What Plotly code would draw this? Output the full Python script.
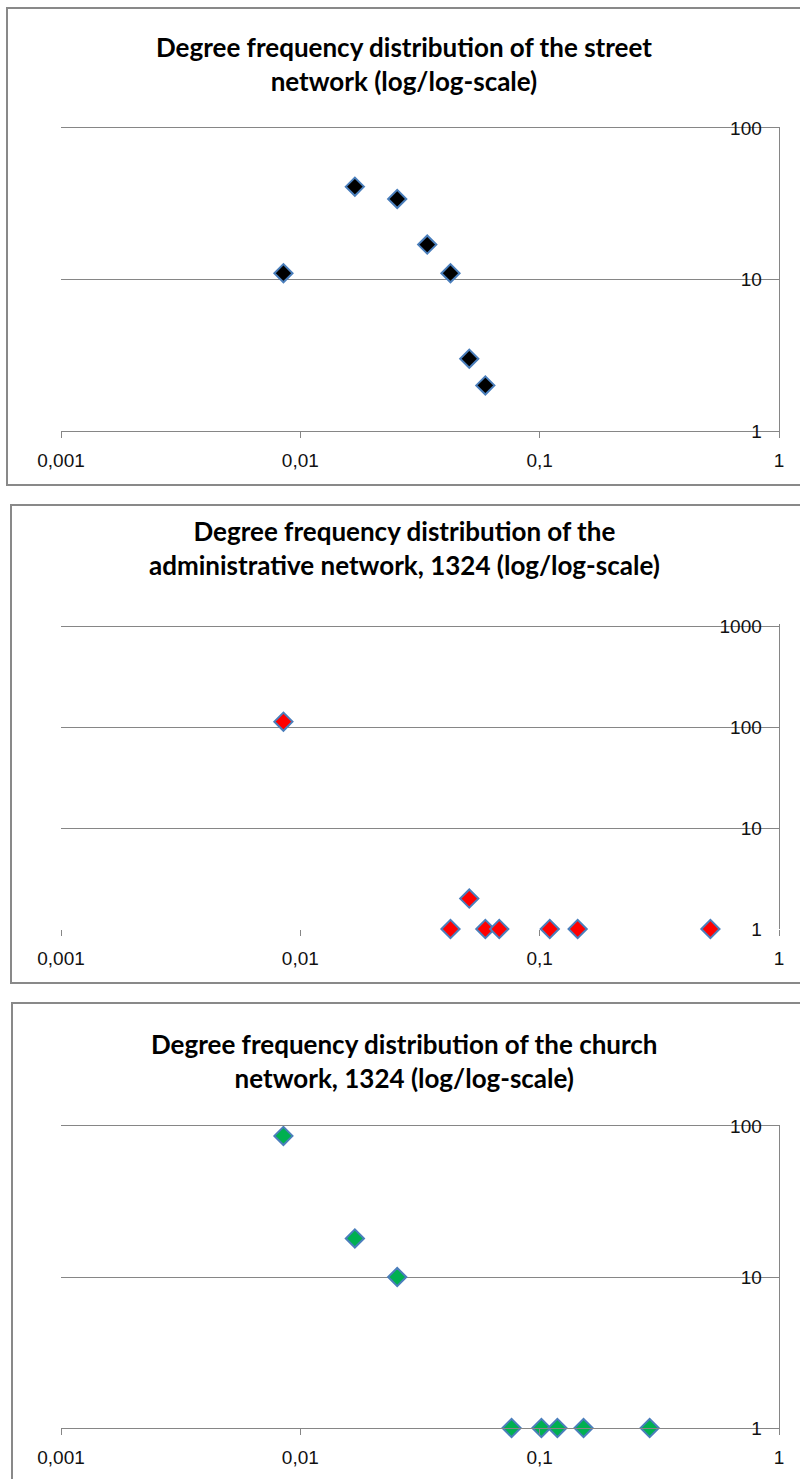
import plotly.graph_objects as go

W, H = 800, 1479

# ---------------- data ----------------
street_x = [0.0085, 0.0169, 0.0254, 0.0339, 0.0424, 0.0508, 0.0593]
street_y = [11, 41, 34, 17, 11, 3, 2]

admin_x = [0.0085, 0.0424, 0.0508, 0.0593, 0.0678, 0.1102, 0.1441, 0.5169]
admin_y = [113, 1, 2, 1, 1, 1, 1, 1]

church_x = [0.0085, 0.0169, 0.0254, 0.0763, 0.1017, 0.1186, 0.1525, 0.2881]
church_y = [86, 18, 10, 1, 1, 1, 1, 1]

x_tickvals = [0.001, 0.01, 0.1, 1]
x_ticktext = ["0,001", "0,01", "0,1", "1"]

titles = [
    ["Degree frequency distribution of the street", "network (log/log-scale)"],
    ["Degree frequency distribution of the", "administrative network, 1324 (log/log-scale)"],
    ["Degree frequency distribution of the church", "network, 1324 (log/log-scale)"],
]

# ---------------- layout helpers ----------------
def px(x):
    return x / W

def py(y):
    return 1 - y / H

GRID = "#868686"
TXT = "#111111"
TICKFONT = dict(family="Liberation Sans", size=19, color=TXT)

panels = [
    # (x data, y data, fill color, y top px, y bottom px, y range (log), y ticks)
    (street_x, street_y, "#000000", 128, 431, [0, 2], [1, 10, 100]),
    (admin_x, admin_y, "#ff0000", 624, 929, [0, 3.02], [1, 10, 100, 1000]),
    (church_x, church_y, "#00b050", 1126, 1428, [0, 2], [1, 10, 100]),
]
boxes = [(7, 8, 485), (11, 505, 983), (12, 1003, 1520)]
title_centers = [64, 548, 1061]

fig = go.Figure()
layout = dict(
    width=W, height=H, autosize=False,
    margin=dict(l=0, r=0, t=0, b=0, pad=0),
    paper_bgcolor="white", plot_bgcolor="white",
    showlegend=False,
    annotations=[], shapes=[],
)

for i, (xs, ys, col, ytop, ybot, yr, ytv) in enumerate(panels):
    n = "" if i == 0 else str(i + 1)
    fig.add_trace(go.Scatter(
        x=xs, y=ys, mode="markers",
        xaxis="x" + n, yaxis="y" + n,
        marker=dict(symbol="diamond", size=14, color=col,
                    line=dict(color="#4a7ebb", width=2)),
        cliponaxis=False,
    ))
    layout["xaxis" + n] = dict(
        type="log", range=[-3, 0],
        domain=[px(61), px(779)],
        anchor="y" + n, automargin=False,
        tickvals=x_tickvals, ticktext=x_ticktext,
        ticks="outside", ticklen=6, tickcolor=GRID, tickwidth=1,
        showline=(i != 1), linecolor=GRID, linewidth=1,
        mirror=(i == 0 or i == 2),
        showgrid=False, zeroline=False,
        tickfont=TICKFONT, ticklabelstandoff=6,
        ticklabeloverflow="allow",
    )
    layout["yaxis" + n] = dict(
        type="log", range=yr,
        domain=[py(ybot), py(ytop)],
        anchor="x" + n, side="right", automargin=False,
        tickvals=ytv, ticktext=[str(v) for v in ytv],
        ticks="inside", ticklen=18, tickcolor=GRID,
        ticklabelposition="inside", ticklabeloverflow="allow",
        showline=True, linecolor=GRID, linewidth=1,
        showgrid=True, gridcolor=GRID, gridwidth=1,
        zeroline=False,
        tickfont=TICKFONT,
    )
    bx, btop, bbot = boxes[i]
    layout["shapes"].append(dict(
        type="rect", xref="paper", yref="paper",
        x0=px(bx), x1=px(830), y0=py(bbot), y1=py(btop),
        line=dict(color="#898989", width=2), layer="below",
    ))
    layout["annotations"].append(dict(
        text="<b>" + titles[i][0] + "</b><br><b>" + titles[i][1] + "</b>",
        xref="paper", yref="paper",
        x=px(404), y=py(title_centers[i]), xanchor="center", yanchor="middle",
        align="center", showarrow=False,
        font=dict(family="Lato", size=26, color="#000000"),
    ))

fig.update_layout(**layout)
fig.write_html(
    "out.html",
    config={"displayModeBar": False},
    post_script="document.body.style.margin='0';document.body.style.overflow='hidden';",
)
